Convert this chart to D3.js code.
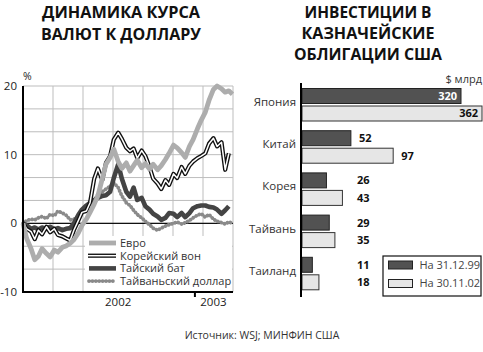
<!DOCTYPE html>
<html>
<head>
<meta charset="utf-8">
<script src="https://cdn.jsdelivr.net/npm/d3@7"></script>
<style>
  body { margin: 0; background: #fff; }
  svg { display: block; font-family: "Open Sans", sans-serif; }
</style>
</head>
<body>
<svg width="483" height="352"></svg>
<script>
// ---- data: currency index vs dollar, % (half-month points) ----
const dates = [
  "2001-01-01","2001-01-15","2001-02-01","2001-02-15","2001-03-01","2001-03-15",
  "2001-04-01","2001-04-15","2001-05-01","2001-05-15","2001-06-01","2001-06-15",
  "2001-07-01","2001-07-15","2001-08-01","2001-08-15","2001-09-01","2001-09-15",
  "2001-10-01","2001-10-15","2001-11-01","2001-11-15","2001-12-01","2001-12-15",
  "2002-01-01","2002-01-15","2002-02-01","2002-02-15","2002-03-01","2002-03-15",
  "2002-04-01","2002-04-15","2002-05-01","2002-05-15","2002-06-01","2002-06-15",
  "2002-07-01","2002-07-15","2002-08-01","2002-08-15","2002-09-01","2002-09-15",
  "2002-10-01","2002-10-15","2002-11-01","2002-11-15","2002-12-01","2002-12-15",
  "2003-01-01","2003-01-15","2003-02-01","2003-02-15","2003-03-01","2003-03-15"
];
const euro = [0,-2.2,-3.7,-5.3,-4.8,-3.7,-4.4,-4.9,-3.9,-4.2,-3.5,-3.3,-2.9,-2.4,-1.4,-0.3,0.6,1.6,
  2.8,4,6.5,8.6,9.6,10.8,9,8,8.8,7.6,8.4,9.2,8.1,8.7,7.9,8.6,7.8,8.4,9.3,10.2,11.4,11.0,10.3,9.6,
  11.2,12.2,13.8,15,16.2,17.9,19.5,20,19.6,19.1,19.3,18.8];
const won = [0,-0.8,-1.2,-2.3,-1.0,-1.6,-0.5,-1.3,-0.8,-1.7,-1.9,-2.2,-2.5,-1.0,0.4,1.6,1.8,3.0,
  6.5,8.0,6.3,8.8,9.8,12.2,13.2,12.3,11.0,10.5,10.9,9.5,10.6,9.8,8.2,6.5,5.8,5.0,6.3,5.6,7.2,6.6,
  8.2,7.2,8.4,9.0,9.5,9.8,10.2,11.6,12.4,11.2,11.8,7.8,10.2,null];
const baht = [0,-0.3,-0.8,-0.6,-0.9,-0.6,-0.8,-0.5,-0.9,-0.7,-1.0,-0.8,-0.7,0.0,1.2,2.0,2.6,3.0,
  3.4,3.7,4.0,4.1,4.6,6.6,8.6,6.5,4.6,3.9,5.2,3.4,3.7,2.5,2.0,1.4,1.0,0.5,0.8,1.5,1.4,0.9,1.5,0.9,
  1.5,2.2,2.5,2.6,2.6,2.4,2.3,2.0,1.4,1.9,2.5,null];
const twd = [0,0.4,0.6,0.5,0.8,1.0,0.7,1.3,1.1,1.8,1.5,1.2,0.5,0.6,1.0,1.8,2.4,2.8,3.3,4.2,
  4.6,5.0,5.4,5.9,5.2,4.0,3.0,2.6,1.9,1.3,0.8,0.3,-0.2,-0.7,-1.0,-0.7,-0.4,-0.2,0.0,0.2,-0.1,0.1,
  0.4,0.8,1.2,1.4,0.9,1.3,0.6,0.3,0.1,-0.1,0.2,0.0];
const seriesNames = ["Евро", "Корейский вон", "Тайский бат", "Тайваньский доллар"];
const yTicks = [20, 10, 0, -10];
const yearTicks = ["2002-01-01", "2003-01-01"];
const markTicks = ["2002-10-22"];

// ---- data: treasury holdings, $ bn ----
const countries = ["Япония", "Китай", "Корея", "Тайвань", "Таиланд"];
const dec99 = [320, 52, 26, 29, 11];
const nov02 = [362, 97, 43, 35, 18];
const periods = ["На 31.12.99", "На 30.11.02"];

const svg = d3.select("svg");
const parse = d3.timeParse("%Y-%m-%d");

// ================= left chart =================
const x = d3.scaleTime()
    .domain([parse("2001-01-01"), parse("2003-03-17")])
    .range([23, 233]);
const y = d3.scaleLinear().domain([-10, 20]).range([292, 86]);
const gridX = d3.scaleLinear().domain([0, 7]).range([23, 233]);

const left = svg.append("g");

// titles (squeezed to the width of the original condensed face)
left.selectAll("text.title")
    .data([["ДИНАМИКА КУРСА", 158], ["ВАЛЮТ К ДОЛЛАРУ", 160]])
    .join("text")
    .attr("class", "title")
    .attr("x", 121).attr("y", (d, i) => 17.6 + i * 22.4)
    .attr("text-anchor", "middle").attr("font-size", 16.5).attr("font-weight", 700).attr("fill", "#111")
    .attr("textLength", d => d[1]).attr("lengthAdjust", "spacingAndGlyphs")
    .text(d => d[0]);

// grid
left.append("g").selectAll("line")
    .data(d3.range(1, 8))
    .join("line")
    .attr("x1", d => gridX(d)).attr("x2", d => gridX(d))
    .attr("y1", y(20)).attr("y2", y(-10))
    .attr("stroke", "#bdbdbd").attr("stroke-width", 1);
left.append("g").selectAll("line")
    .data(d3.range(0, 10).map(k => -10 + k * 10 / 3))
    .join("line")
    .attr("x1", 23).attr("x2", gridX(7))
    .attr("y1", d => y(d)).attr("y2", d => y(d))
    .attr("stroke", "#bdbdbd").attr("stroke-width", 1);

// zero line
left.append("line")
    .attr("x1", 23).attr("x2", gridX(7))
    .attr("y1", y(0)).attr("y2", y(0))
    .attr("stroke", "#111").attr("stroke-width", 1.3);

// y labels
left.append("g").selectAll("text")
    .data(yTicks)
    .join("text")
    .attr("x", 17).attr("y", d => y(d)).attr("dy", "0.35em")
    .attr("text-anchor", "end").attr("font-size", 11.5).attr("fill", "#222")
    .text(d => d);
left.append("text").attr("x", 23).attr("y", 80).attr("font-size", 10.5).attr("fill", "#222").text("%");

// styles for each currency
const styleLine = (sel, i) => {
  if (i === 0) sel.attr("stroke", "#adadad").attr("stroke-width", 4.8);
  if (i === 2) sel.attr("stroke", "#444").attr("stroke-width", 4.6);
  if (i === 3) sel.attr("stroke", "#8a8a8a").attr("stroke-width", 3.8)
      .attr("stroke-dasharray", "0.1,3.3").attr("stroke-linecap", "round");
  return sel;
};

const line = d3.line()
    .defined(d => d[1] !== null)
    .x(d => x(parse(d[0])))
    .y(d => y(d[1]));
const seriesValues = [euro, won, baht, twd];
const pairs = seriesValues.map(vals => dates.map((d, i) => [d, vals[i]]));

const lines = left.append("g").attr("fill", "none").attr("stroke-linejoin", "round");
// draw order: Taiwan, baht, won, euro
lines.append("path").attr("d", line(pairs[3])).call(styleLine, 3);
lines.append("path").attr("d", line(pairs[2])).call(styleLine, 2);
lines.append("path").attr("d", line(pairs[1])).attr("stroke", "#111").attr("stroke-width", 4.2);
lines.append("path").attr("d", line(pairs[1])).attr("stroke", "#fff").attr("stroke-width", 1.5);
lines.append("path").attr("d", line(pairs[0])).call(styleLine, 0);

// legend
left.append("rect").attr("x", 85).attr("y", 236).attr("width", 147).attr("height", 55).attr("fill", "#fff");
const leg = left.append("g").selectAll("g")
    .data(seriesNames)
    .join("g")
    .attr("transform", (d, i) => `translate(88,${243 + i * 12.7})`);
leg.each(function (d, i) {
  const g = d3.select(this);
  if (i === 1) {
    g.append("line").attr("x1", 0).attr("x2", 28).attr("stroke", "#111").attr("stroke-width", 4.2);
    g.append("line").attr("x1", 0).attr("x2", 28).attr("stroke", "#fff").attr("stroke-width", 1.5);
  } else {
    g.append("line").attr("x1", 1).attr("x2", 28).call(styleLine, i);
  }
});
leg.append("text")
    .attr("x", 32).attr("dy", "0.35em")
    .attr("font-size", 11).attr("fill", "#333")
    .text(d => d);

// axes
left.append("line").attr("x1", 23).attr("x2", 23).attr("y1", y(20)).attr("y2", y(-10) + 1)
    .attr("stroke", "#000").attr("stroke-width", 2);
left.append("line").attr("x1", 22).attr("x2", gridX(7)).attr("y1", y(-10)).attr("y2", y(-10))
    .attr("stroke", "#000").attr("stroke-width", 2);
left.append("g").selectAll("line")
    .data(markTicks)
    .join("line")
    .attr("x1", d => x(parse(d))).attr("x2", d => x(parse(d)))
    .attr("y1", y(-10)).attr("y2", y(-10) + 5)
    .attr("stroke", "#000").attr("stroke-width", 2);
left.append("g").selectAll("text")
    .data(yearTicks)
    .join("text")
    .attr("x", d => x(parse(d))).attr("y", 306)
    .attr("text-anchor", "middle").attr("font-size", 11.5).attr("fill", "#222")
    .text(d => d.slice(0, 4));

// ================= right chart =================
const right = svg.append("g");
right.selectAll("text.title")
    .data([["ИНВЕСТИЦИИ В", 127], ["КАЗНАЧЕЙСКИЕ", 133], ["ОБЛИГАЦИИ США", 148]])
    .join("text")
    .attr("class", "title")
    .attr("x", 368).attr("y", (d, i) => 17.6 + i * 21.4)
    .attr("text-anchor", "middle").attr("font-size", 16.5).attr("font-weight", 700).attr("fill", "#111")
    .attr("textLength", d => d[1]).attr("lengthAdjust", "spacingAndGlyphs")
    .text(d => d[0]);

// broken scale: Japan bars are drawn shortened
const bx = d3.scaleLinear().domain([0, 100, 300, 362]).range([302, 396, 451, 482]);
const band = d3.scaleBand().domain(countries).range([84.5, 295.5]);
const sub = d3.scaleBand().domain([0, 1]).range([4, 36.5]).paddingInner(0.143);

const barData = countries.flatMap((c, i) => [
  { c, k: 0, v: dec99[i] },
  { c, k: 1, v: nov02[i] }
]);

right.append("text").attr("x", 482).attr("y", 83).attr("text-anchor", "end")
    .attr("font-size", 11).attr("fill", "#333").text("$ млрд");

right.append("g").selectAll("rect")
    .data(barData)
    .join("rect")
    .attr("x", bx(0)).attr("y", d => band(d.c) + sub(d.k))
    .attr("width", d => bx(d.v) - bx(0)).attr("height", sub.bandwidth())
    .attr("fill", d => d.k === 0 ? "#525252" : "#e6e6e6")
    .attr("stroke", d => d.k === 0 ? "#222" : "#333").attr("stroke-width", 1);

const labelCol = bx(52) + 6;
right.append("g").selectAll("text")
    .data(barData)
    .join("text")
    .attr("x", d => d.c === "Япония" ? bx(d.v) - 4 : Math.max(bx(d.v) + 8, labelCol))
    .attr("y", d => band(d.c) + sub(d.k) + sub.bandwidth() / 2)
    .attr("dy", "0.36em")
    .attr("text-anchor", d => d.c === "Япония" ? "end" : "start")
    .attr("font-size", 11).attr("font-weight", 700)
    .attr("fill", d => d.c === "Япония" && d.k === 0 ? "#fff" : "#111")
    .text(d => d.v);

right.append("g").selectAll("text")
    .data(countries)
    .join("text")
    .attr("x", 296).attr("y", d => band(d) + 21.5)
    .attr("text-anchor", "end").attr("font-size", 11.5).attr("fill", "#333")
    .text(d => d);

right.append("line").attr("x1", 301).attr("x2", 301).attr("y1", 83).attr("y2", 297)
    .attr("stroke", "#000").attr("stroke-width", 2);

// legend
right.append("rect").attr("x", 383).attr("y", 256).attr("width", 98).attr("height", 40)
    .attr("fill", "#fff").attr("stroke", "#111").attr("stroke-width", 1.2);
const rleg = right.append("g").selectAll("g")
    .data(periods)
    .join("g")
    .attr("transform", (d, i) => `translate(388.5,${265 + i * 18.5})`);
rleg.append("rect").attr("x", 0).attr("y", -4).attr("width", 24).attr("height", 8)
    .attr("fill", (d, i) => i === 0 ? "#525252" : "#e6e6e6").attr("stroke", "#222");
rleg.append("text").attr("x", 31).attr("dy", "0.35em")
    .attr("font-size", 11).attr("fill", "#444").text(d => d);

// source
svg.append("text").attr("x", 262).attr("y", 339).attr("text-anchor", "middle")
    .attr("font-size", 10.5).attr("fill", "#333").text("Источник: WSJ; МИНФИН США");
</script>
</body>
</html>
